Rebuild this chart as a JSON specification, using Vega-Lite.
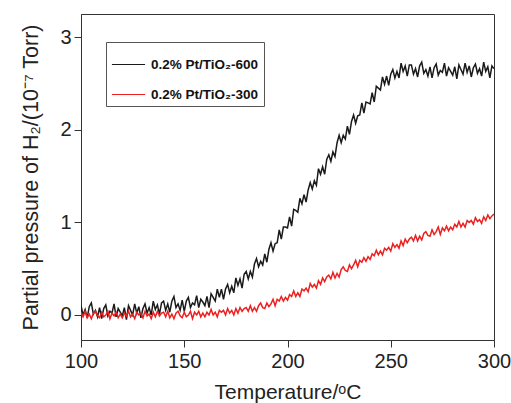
{
  "$schema": "https://vega.github.io/schema/vega-lite/v6.json",
  "width": 413,
  "height": 326,
  "autosize": {"type": "none"},
  "padding": {"left": 81, "top": 14, "right": 17, "bottom": 63},
  "background": "white",
  "config": {
    "font": "Liberation Sans, Arial, sans-serif",
    "view": {"stroke": "#333", "strokeWidth": 1}
  },
  "data": {"values": [
{"t":100,"a":0.10,"b":0.03},{"t":101,"a":0.00,"b":-0.02},{"t":102,"a":0.06,"b":0.04},{"t":103,"a":-0.03,"b":-0.03},{"t":104,"a":0.09,"b":0.01},{"t":105,"a":0.13,"b":-0.04},{"t":106,"a":0.01,"b":0.02},{"t":107,"a":0.05,"b":0.04},{"t":108,"a":-0.02,"b":-0.01},{"t":109,"a":0.08,"b":-0.03},
{"t":110,"a":-0.04,"b":0.03},{"t":111,"a":0.07,"b":-0.02},{"t":112,"a":0.11,"b":0.00},{"t":113,"a":-0.01,"b":0.04},{"t":114,"a":0.04,"b":-0.04},{"t":115,"a":0.02,"b":0.02},{"t":116,"a":0.12,"b":-0.01},{"t":117,"a":-0.02,"b":0.03},{"t":118,"a":0.07,"b":-0.03},{"t":119,"a":0.03,"b":0.01},
{"t":120,"a":-0.01,"b":-0.03},{"t":121,"a":0.08,"b":0.02},{"t":122,"a":-0.05,"b":-0.01},{"t":123,"a":0.10,"b":0.04},{"t":124,"a":0.05,"b":-0.02},{"t":125,"a":0.00,"b":0.01},{"t":126,"a":0.12,"b":-0.04},{"t":127,"a":0.02,"b":0.03},{"t":128,"a":0.09,"b":0.00},{"t":129,"a":-0.03,"b":0.02},
{"t":130,"a":0.07,"b":-0.03},{"t":131,"a":0.12,"b":0.04},{"t":132,"a":0.02,"b":-0.01},{"t":133,"a":0.08,"b":0.01},{"t":134,"a":0.00,"b":-0.04},{"t":135,"a":0.15,"b":0.03},{"t":136,"a":0.06,"b":-0.02},{"t":137,"a":0.11,"b":0.04},{"t":138,"a":0.01,"b":-0.01},{"t":139,"a":0.13,"b":0.02},
{"t":140,"a":0.15,"b":0.03},{"t":141,"a":0.05,"b":-0.02},{"t":142,"a":0.12,"b":0.04},{"t":143,"a":0.03,"b":-0.03},{"t":144,"a":0.15,"b":0.01},{"t":145,"a":0.20,"b":-0.04},{"t":146,"a":0.08,"b":0.02},{"t":147,"a":0.12,"b":0.04},{"t":148,"a":0.05,"b":-0.01},{"t":149,"a":0.16,"b":-0.03},
{"t":150,"a":0.04,"b":0.03},{"t":151,"a":0.15,"b":-0.02},{"t":152,"a":0.19,"b":0.00},{"t":153,"a":0.08,"b":0.04},{"t":154,"a":0.13,"b":-0.04},{"t":155,"a":0.11,"b":0.03},{"t":156,"a":0.21,"b":0.00},{"t":157,"a":0.08,"b":0.04},{"t":158,"a":0.17,"b":-0.02},{"t":159,"a":0.14,"b":0.02},
{"t":160,"a":0.10,"b":-0.02},{"t":161,"a":0.20,"b":0.03},{"t":162,"a":0.08,"b":0.00},{"t":163,"a":0.23,"b":0.06},{"t":164,"a":0.19,"b":0.00},{"t":165,"a":0.15,"b":0.03},{"t":166,"a":0.28,"b":-0.02},{"t":167,"a":0.19,"b":0.05},{"t":168,"a":0.28,"b":0.03},{"t":169,"a":0.17,"b":0.05},
{"t":170,"a":0.28,"b":0.00},{"t":171,"a":0.33,"b":0.07},{"t":172,"a":0.24,"b":0.02},{"t":173,"a":0.31,"b":0.05},{"t":174,"a":0.24,"b":0.00},{"t":175,"a":0.40,"b":0.07},{"t":176,"a":0.32,"b":0.02},{"t":177,"a":0.39,"b":0.08},{"t":178,"a":0.29,"b":0.04},{"t":179,"a":0.44,"b":0.07},
{"t":180,"a":0.47,"b":0.08},{"t":181,"a":0.39,"b":0.04},{"t":182,"a":0.47,"b":0.10},{"t":183,"a":0.41,"b":0.04},{"t":184,"a":0.55,"b":0.08},{"t":185,"a":0.61,"b":0.04},{"t":186,"a":0.52,"b":0.10},{"t":187,"a":0.58,"b":0.13},{"t":188,"a":0.54,"b":0.08},{"t":189,"a":0.66,"b":0.07},
{"t":190,"a":0.57,"b":0.13},{"t":191,"a":0.71,"b":0.09},{"t":192,"a":0.78,"b":0.12},{"t":193,"a":0.69,"b":0.17},{"t":194,"a":0.77,"b":0.10},{"t":195,"a":0.78,"b":0.17},{"t":196,"a":0.92,"b":0.15},{"t":197,"a":0.82,"b":0.20},{"t":198,"a":0.95,"b":0.15},{"t":199,"a":0.95,"b":0.19},
{"t":200,"a":0.94,"b":0.16},{"t":201,"a":1.06,"b":0.22},{"t":202,"a":0.96,"b":0.20},{"t":203,"a":1.14,"b":0.26},{"t":204,"a":1.13,"b":0.20},{"t":205,"a":1.11,"b":0.24},{"t":206,"a":1.26,"b":0.20},{"t":207,"a":1.20,"b":0.28},{"t":208,"a":1.30,"b":0.26},{"t":209,"a":1.22,"b":0.29},
{"t":210,"a":1.35,"b":0.25},{"t":211,"a":1.43,"b":0.34},{"t":212,"a":1.36,"b":0.30},{"t":213,"a":1.45,"b":0.33},{"t":214,"a":1.40,"b":0.29},{"t":215,"a":1.58,"b":0.37},{"t":216,"a":1.52,"b":0.33},{"t":217,"a":1.60,"b":0.40},{"t":218,"a":1.52,"b":0.36},{"t":219,"a":1.68,"b":0.41},
{"t":220,"a":1.73,"b":0.43},{"t":221,"a":1.66,"b":0.39},{"t":222,"a":1.76,"b":0.46},{"t":223,"a":1.71,"b":0.40},{"t":224,"a":1.86,"b":0.45},{"t":225,"a":1.94,"b":0.41},{"t":226,"a":1.86,"b":0.49},{"t":227,"a":1.94,"b":0.52},{"t":228,"a":1.90,"b":0.48},{"t":229,"a":2.04,"b":0.47},
{"t":230,"a":1.95,"b":0.54},{"t":231,"a":2.09,"b":0.50},{"t":232,"a":2.16,"b":0.54},{"t":233,"a":2.07,"b":0.59},{"t":234,"a":2.15,"b":0.52},{"t":235,"a":2.16,"b":0.59},{"t":236,"a":2.29,"b":0.57},{"t":237,"a":2.18,"b":0.62},{"t":238,"a":2.30,"b":0.58},{"t":239,"a":2.29,"b":0.63},
{"t":240,"a":2.28,"b":0.60},{"t":241,"a":2.40,"b":0.66},{"t":242,"a":2.30,"b":0.64},{"t":243,"a":2.47,"b":0.70},{"t":244,"a":2.45,"b":0.65},{"t":245,"a":2.43,"b":0.69},{"t":246,"a":2.57,"b":0.65},{"t":247,"a":2.49,"b":0.72},{"t":248,"a":2.58,"b":0.70},{"t":249,"a":2.48,"b":0.73},
{"t":250,"a":2.60,"b":0.69},{"t":251,"a":2.65,"b":0.77},{"t":252,"a":2.56,"b":0.73},{"t":253,"a":2.63,"b":0.76},{"t":254,"a":2.56,"b":0.72},{"t":255,"a":2.72,"b":0.80},{"t":256,"a":2.63,"b":0.75},{"t":257,"a":2.69,"b":0.82},{"t":258,"a":2.58,"b":0.78},{"t":259,"a":2.70,"b":0.82},
{"t":260,"a":2.70,"b":0.84},{"t":261,"a":2.60,"b":0.80},{"t":262,"a":2.66,"b":0.86},{"t":263,"a":2.57,"b":0.80},{"t":264,"a":2.69,"b":0.85},{"t":265,"a":2.73,"b":0.81},{"t":266,"a":2.61,"b":0.88},{"t":267,"a":2.65,"b":0.90},{"t":268,"a":2.58,"b":0.86},{"t":269,"a":2.68,"b":0.85},
{"t":270,"a":2.56,"b":0.92},{"t":271,"a":2.67,"b":0.87},{"t":272,"a":2.71,"b":0.90},{"t":273,"a":2.59,"b":0.95},{"t":274,"a":2.64,"b":0.87},{"t":275,"a":2.62,"b":0.94},{"t":276,"a":2.72,"b":0.91},{"t":277,"a":2.58,"b":0.96},{"t":278,"a":2.67,"b":0.91},{"t":279,"a":2.63,"b":0.95},
{"t":280,"a":2.59,"b":0.92},{"t":281,"a":2.68,"b":0.98},{"t":282,"a":2.55,"b":0.95},{"t":283,"a":2.70,"b":1.01},{"t":284,"a":2.65,"b":0.95},{"t":285,"a":2.60,"b":0.99},{"t":286,"a":2.72,"b":0.95},{"t":287,"a":2.62,"b":1.02},{"t":288,"a":2.69,"b":1.00},{"t":289,"a":2.57,"b":1.02},
{"t":290,"a":2.67,"b":0.98},{"t":291,"a":2.71,"b":1.05},{"t":292,"a":2.61,"b":1.01},{"t":293,"a":2.66,"b":1.03},{"t":294,"a":2.58,"b":0.99},{"t":295,"a":2.73,"b":1.06},{"t":296,"a":2.63,"b":1.02},{"t":297,"a":2.68,"b":1.08},{"t":298,"a":2.56,"b":1.04},{"t":299,"a":2.69,"b":1.07},
{"t":300,"a":2.66,"b":1.09}
  ]},
  "transform": [{"fold": ["a", "b"], "as": ["series", "p"]}],
  "mark": {"type": "line", "strokeWidth": 1.5, "clip": true},
  "encoding": {
    "x": {
      "field": "t", "type": "quantitative",
      "scale": {"domain": [100, 300], "nice": false},
      "axis": {
        "title": "Temperature/ᵒC",
        "values": [100, 150, 200, 250, 300],
        "grid": false,
        "domainColor": "#333", "tickColor": "#333", "tickSize": 7,
        "labelFontSize": 20, "labelColor": "#222", "labelPadding": 4,
        "labelFlush": false,
        "titleFontSize": 21, "titleFontWeight": "normal", "titleColor": "#222", "titlePadding": 10
      }
    },
    "y": {
      "field": "p", "type": "quantitative",
      "scale": {"domain": [-0.27, 3.25], "nice": false, "zero": false},
      "axis": {
        "title": "Partial pressure of H₂/(10⁻⁷ Torr)",
        "values": [0, 1, 2, 3],
        "grid": false,
        "domainColor": "#333", "tickColor": "#333", "tickSize": 7,
        "labelFontSize": 20, "labelColor": "#222", "labelPadding": 3,
        "titleFontSize": 21.5, "titleFontWeight": "normal", "titleColor": "#222", "titlePadding": 17
      }
    },
    "color": {
      "field": "series", "type": "nominal",
      "scale": {"domain": ["a", "b"], "range": ["#1a1a1a", "#ec2020"]},
      "legend": {
        "orient": "none", "legendX": 25, "legendY": 28,
        "title": null,
        "strokeColor": "#555", "padding": 5, "fillColor": "white",
        "symbolType": "stroke", "symbolSize": 1100, "symbolStrokeWidth": 1,
        "labelFontSize": 13.5, "labelFontWeight": "bold", "labelColor": "#111",
        "labelOffset": 5, "rowPadding": 6,
        "labelExpr": "datum.label == 'a' ? '0.2% Pt/TiO₂-600' : '0.2% Pt/TiO₂-300'"
      }
    }
  }
}
